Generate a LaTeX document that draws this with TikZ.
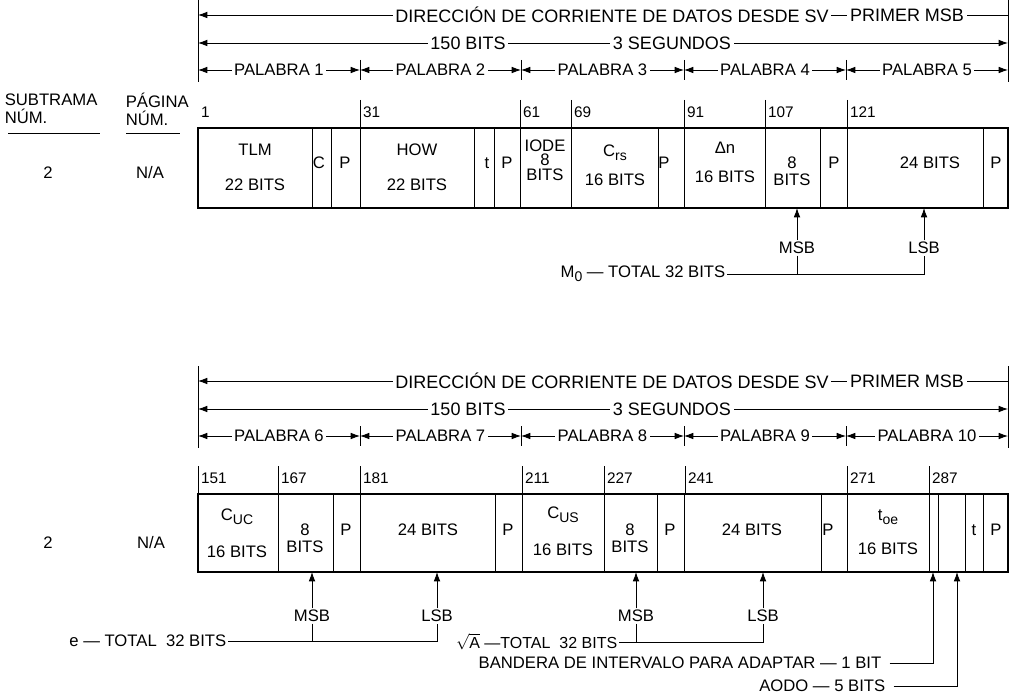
\documentclass[tikz,border=0pt]{standalone}
\usepackage{fontspec}
\setmainfont{Liberation Sans}
\usetikzlibrary{arrows.meta}
\newcommand{\lowsub}[1]{\raisebox{-0.5ex}{\fontsize{10.5}{10.5}\selectfont #1}}
\tikzset{
    txt/.style={font=\fontsize{12.5}{13}\selectfont, inner sep=1pt},
    hdr/.style={font=\fontsize{13.5}{14}\selectfont, fill=white, inner sep=2pt},
    word/.style={hdr, font=\fontsize{12.5}{13}\selectfont},
    num/.style={font=\fontsize{11.5}{12}\selectfont, anchor=west, inner sep=2pt},
    tip/.style={-{Latex[length=7pt,width=5pt]}},
    both/.style={{Latex[length=7pt,width=5pt]}-{Latex[length=7pt,width=5pt]}},
    frame/.style={line width=1pt},
}
\begin{document}
\begin{tikzpicture}[x=0.75pt,y=-0.75pt,line width=0.65pt]
\useasboundingbox (0,0) rectangle (1013,698);

% header rows of both subframe halves
\foreach \f/\yo in {1/0,2/366}{
  \begin{scope}[shift={(0,\yo)}]
    \draw (198,0) -- (198,82);
    \draw (1008,0) -- (1008,82);
    \draw[tip] (1008,15) -- (198,15);
    \node[hdr] (dir\f) at (612,15) {DIRECCIÓN DE CORRIENTE DE DATOS DESDE SV};
    \node[hdr] (first\f) at (907,15) {PRIMER MSB};
    \draw[both] (198,43) -- (1008,43);
    \node[hdr] (bits\f) at (468,43) {150 BITS};
    \node[hdr] (secs\f) at (672,43) {3 SEGUNDOS};
    % words
    \foreach \w/\a/\b in {1/198/360,2/360/521,3/521/684,4/684/846,5/846/1008}{
      \pgfmathtruncatemacro{\k}{5*(\f-1)+\w}
      \draw (\b,60) -- (\b,80);
      \draw[both] (\a,70) -- (\b,70);
      \node[word] (word\k) at ({(\a+\b)/2},70) {PALABRA \k};
    }
  \end{scope}
}

% left column
\node[txt,anchor=west,align=left,font=\fontsize{12.5}{13.5}\selectfont] (sub) at (3,109) {SUBTRAMA\\NÚM.};
\node[txt,anchor=west,align=left,font=\fontsize{12.5}{13.5}\selectfont] (pag) at (124,109) {PÁGINA\\NÚM.};
\draw (8,133) -- (100,133);
\draw (126,133) -- (180,133);
\node[txt] (sf1) at (48,173) {2};
\node[txt] (pg1) at (150,173) {N/A};
\node[txt] (sf2) at (48,543) {2};
\node[txt] (pg2) at (151,543) {N/A};

% first half: bits 1-150
\draw[frame] (198,128) rectangle (1008,208);
\foreach \x in {312,331,360,474,494,520,571,658,684,765,820,847,983}
  \draw (\x,128) -- (\x,208);
\node[num] (n1) at (198,112) {1};
\foreach \n/\x in {31/360,61/520,69/571,91/684,107/765,121/847}{
  \draw (\x,100) -- (\x,128);
  \node[num] (n\n) at (\x,112) {\n};
}
\node[txt] (tlm) at (255,150) {TLM};
\node[txt] (tlmbits) at (255,185) {22 BITS};
\node[txt] (cbit) at (319,163) {C};
\node[txt] (p1) at (345,163) {P};
\node[txt] (how) at (417,150) {HOW};
\node[txt] (howbits) at (417,185) {22 BITS};
\node[txt] (tbit1) at (487,163) {t};
\node[txt] (p2) at (507,163) {P};
\node[txt,align=center,font=\fontsize{12.5}{11}\selectfont] (iode) at (545,160) {IODE\\8\\BITS};
\node[txt] (crs) at (615,153) {C\lowsub{rs}};
\node[txt] (crsbits) at (615,180) {16 BITS};
\node[txt] (p3) at (664,163) {P};
\node[txt] (dn) at (725,148) {Δn};
\node[txt] (dnbits) at (725,177) {16 BITS};
\node[txt,align=center] (mhi) at (792,171) {8\\BITS};
\node[txt] (p4) at (834,163) {P};
\node[txt] (mlo) at (930,163) {24 BITS};
\node[txt] (p5) at (996,163) {P};

\coordinate (m0a) at (797,208);
\coordinate (m0b) at (924,208);
\node[txt] (msb1) at (797,248) {MSB};
\node[txt] (lsb1) at (924,248) {LSB};
\node[txt,anchor=east] (m0) at (727,274) {M\lowsub{0} — TOTAL 32 BITS};
\draw[tip] (msb1) -- (m0a);
\draw[tip] (lsb1) -- (m0b);
\draw (m0.east) -| (lsb1);
\draw (msb1) -- (msb1 |- m0.east);

% second half: bits 151-300
\draw[frame] (198,494) rectangle (1008,572);
\foreach \x in {278,333,360,495,522,604,657,684,821,847,929,938,965,983}
  \draw (\x,494) -- (\x,572);
\foreach \n/\x in {151/198,167/278,181/360,211/522,227/604,241/685,271/847,287/929}{
  \draw (\x,466) -- (\x,494);
  \node[num] (n\n) at (\x,478) {\n};
}
\node[txt] (cuc) at (237,517) {C\lowsub{UC}};
\node[txt] (cucbits) at (237,552) {16 BITS};
\node[txt,align=center] (ehi) at (305,538) {8\\BITS};
\node[txt] (p6) at (346,530) {P};
\node[txt] (elo) at (428,530) {24 BITS};
\node[txt] (p7) at (508,530) {P};
\node[txt] (cus) at (563,515) {C\lowsub{US}};
\node[txt] (cusbits) at (563,550) {16 BITS};
\node[txt,align=center] (ahi) at (630,538) {8\\BITS};
\node[txt] (p8) at (670,530) {P};
\node[txt] (alo) at (752,530) {24 BITS};
\node[txt] (p9) at (828,530) {P};
\node[txt] (toe) at (888,517) {t\lowsub{oe}};
\node[txt] (toebits) at (888,549) {16 BITS};
\node[txt] (tbit2) at (974,530) {t};
\node[txt] (p10) at (996,530) {P};

\coordinate (ea) at (312,572);
\coordinate (eb) at (437,572);
\node[txt] (msb2) at (312,616) {MSB};
\node[txt] (lsb2) at (437,616) {LSB};
\node[txt,anchor=east] (ecc) at (228,641) {e — TOTAL\ \ 32 BITS};
\draw[tip] (msb2) -- (ea);
\draw[tip] (lsb2) -- (eb);
\draw (ecc.east) -| (lsb2);
\draw (msb2) -- (msb2 |- ecc.east);

\coordinate (sa) at (636,572);
\coordinate (sb) at (763,572);
\node[txt] (msb3) at (636,616) {MSB};
\node[txt] (lsb3) at (763,616) {LSB};
\node[txt,anchor=east,font=\fontsize{12}{12.5}\selectfont] (sqa) at (619,642) {$\sqrt{\mathrm{A}}$ —TOTAL\ \ 32 BITS};
\draw[tip] (msb3) -- (sa);
\draw[tip] (lsb3) -- (sb);
\draw (sqa.east) -| (lsb3);
\draw (msb3) -- (msb3 |- sqa.east);

\coordinate (fit) at (933,572);
\coordinate (aodo) at (957,572);
\node[txt,anchor=east] (fitflag) at (883,663) {BANDERA DE INTERVALO PARA ADAPTAR — 1 BIT};
\node[txt,anchor=east] (aodotxt) at (887,686) {AODO — 5 BITS};
\draw[tip] ([xshift=5pt]fitflag.east) -| (fit);
\draw[tip] ([xshift=5pt]aodotxt.east) -| (aodo);
\end{tikzpicture}
\end{document}
